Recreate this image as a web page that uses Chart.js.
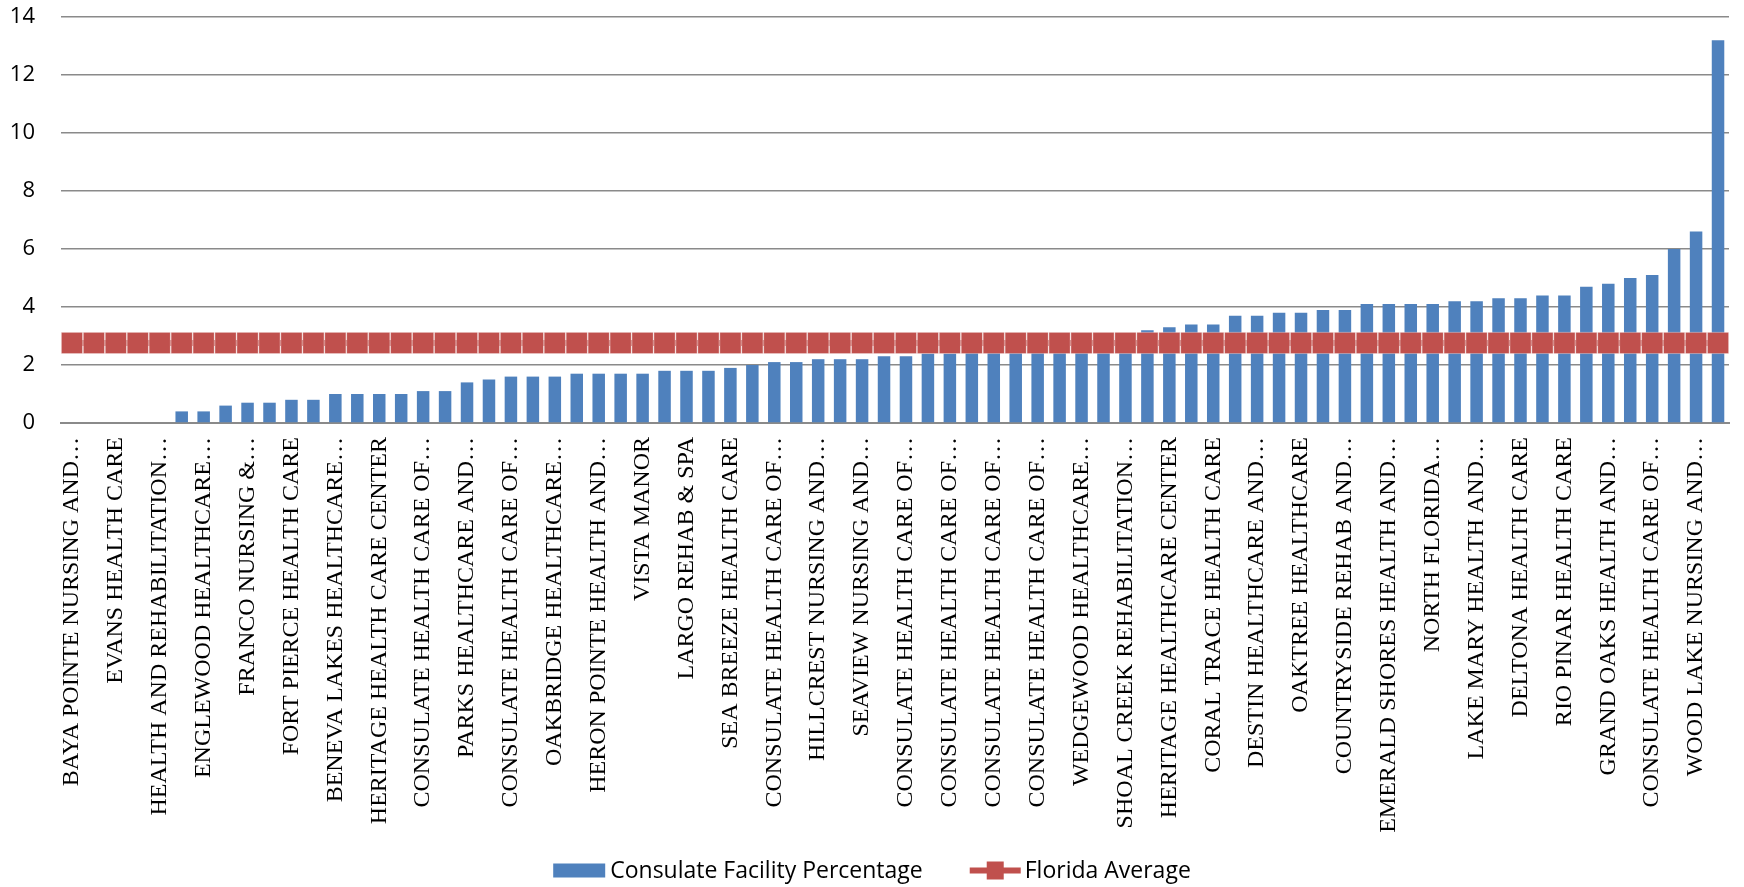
<!DOCTYPE html>
<html>
<head>
<meta charset="utf-8">
<title>Consulate Facility Percentage vs Florida Average</title>
<script src="https://cdn.jsdelivr.net/npm/chart.js@4.4.1/dist/chart.umd.min.js"></script>
<style>
    html, body { margin: 0; padding: 0; background: #ffffff; }
    #wrap { width: 1744px; height: 887px; position: relative; }
</style>
</head>
<body>
<div id="wrap"><canvas id="facility-chart"></canvas></div>
<script>
// Facility names, left to right. Only every other name is printed on the
// axis in the source chart, so the names in between are left blank.
const facilities = [
    'BAYA POINTE NURSING AND…', '',
    'EVANS HEALTH CARE', '',
    'HEALTH AND REHABILITATION…', '',
    'ENGLEWOOD HEALTHCARE…', '',
    'FRANCO NURSING &…', '',
    'FORT PIERCE HEALTH CARE', '',
    'BENEVA LAKES HEALTHCARE…', '',
    'HERITAGE HEALTH CARE CENTER', '',
    'CONSULATE HEALTH CARE OF…', '',
    'PARKS HEALTHCARE AND…', '',
    'CONSULATE HEALTH CARE OF…', '',
    'OAKBRIDGE HEALTHCARE…', '',
    'HERON POINTE HEALTH AND…', '',
    'VISTA MANOR', '',
    'LARGO REHAB & SPA', '',
    'SEA BREEZE HEALTH CARE', '',
    'CONSULATE HEALTH CARE OF…', '',
    'HILLCREST NURSING AND…', '',
    'SEAVIEW NURSING AND…', '',
    'CONSULATE HEALTH CARE OF…', '',
    'CONSULATE HEALTH CARE OF…', '',
    'CONSULATE HEALTH CARE OF…', '',
    'CONSULATE HEALTH CARE OF…', '',
    'WEDGEWOOD HEALTHCARE…', '',
    'SHOAL CREEK REHABILITATION…', '',
    'HERITAGE HEALTHCARE CENTER', '',
    'CORAL TRACE HEALTH CARE', '',
    'DESTIN HEALTHCARE AND…', '',
    'OAKTREE HEALTHCARE', '',
    'COUNTRYSIDE REHAB AND…', '',
    'EMERALD SHORES HEALTH AND…', '',
    'NORTH FLORIDA…', '',
    'LAKE MARY HEALTH AND…', '',
    'DELTONA HEALTH CARE', '',
    'RIO PINAR HEALTH CARE', '',
    'GRAND OAKS HEALTH AND…', '',
    'CONSULATE HEALTH CARE OF…', '',
    'WOOD LAKE NURSING AND…', ''
];

// Consulate facility percentage per facility
const facilityPercent = [
    0, 0, 0, 0, 0, 0.4, 0.4, 0.6, 0.7, 0.7,
    0.8, 0.8, 1.0, 1.0, 1.0, 1.0, 1.1, 1.1, 1.4, 1.5,
    1.6, 1.6, 1.6, 1.7, 1.7, 1.7, 1.7, 1.8, 1.8, 1.8,
    1.9, 2.0, 2.1, 2.1, 2.2, 2.2, 2.2, 2.3, 2.3, 2.4,
    2.4, 2.5, 2.5, 2.6, 2.7, 2.7, 2.8, 2.9, 3.0, 3.2,
    3.3, 3.4, 3.4, 3.7, 3.7, 3.8, 3.8, 3.9, 3.9, 4.1,
    4.1, 4.1, 4.1, 4.2, 4.2, 4.3, 4.3, 4.4, 4.4, 4.7,
    4.8, 5.0, 5.1, 6.0, 6.6, 13.2
];

// Statewide average, same for every facility
const floridaAverage = 2.76;

// Y axis range and step
const yTicks = [0, 2, 4, 6, 8, 10, 12, 14];

const BLUE = '#4F81BD';
const RED = '#C0504D';
const GRID = '#8A8A8A';
const SANS = "'Open Sans'";

/**
 * Legend drawn under the chart: flat bar swatch for the bars,
 * line with a square marker for the average.
 */
const bottomLegend = {
    id: 'bottomLegend',
    afterDraw(chart) {
        const c = chart.ctx;
        const [bars, avg] = chart.data.datasets;
        const y = 870.5;

        c.save();
        c.font = '23px ' + SANS;
        c.textBaseline = 'middle';
        const w1 = c.measureText(bars.label).width;
        const w2 = c.measureText(avg.label).width;
        const total = 52 + 5 + w1 + 47 + 51 + 4 + w2;
        let x = 872 - total / 2;

        c.fillStyle = bars.backgroundColor;
        c.fillRect(x, y - 7, 52, 14);
        x += 57;
        c.fillStyle = '#000000';
        c.fillText(bars.label, x, y + 1);
        x += w1 + 47;

        c.fillStyle = avg.borderColor;
        c.fillRect(x, y - 3, 51, 6);
        c.fillRect(x + 17, y - 9, 17, 18);
        x += 55;
        c.fillStyle = '#000000';
        c.fillText(avg.label, x, y + 1);
        c.restore();
    }
};

const ctx = document.getElementById('facility-chart').getContext('2d');
const facilityChart = new Chart(ctx, {
    type: 'bar',
    data: {
        labels: facilities,
        datasets: [{
            label: 'Consulate Facility Percentage',
            data: facilityPercent,
            backgroundColor: BLUE,
            borderWidth: 0,
            barPercentage: 0.57,
            categoryPercentage: 1.0,
            order: 1
        }, {
            type: 'line',
            label: 'Florida Average',
            data: facilities.map(() => floridaAverage),
            borderColor: RED,
            borderWidth: 6,
            backgroundColor: RED,
            pointStyle: 'rect',
            pointRadius: 15,
            pointHoverRadius: 15,
            pointBackgroundColor: RED,
            pointBorderColor: 'rgba(255, 255, 255, 0.35)',
            pointBorderWidth: 1,
            fill: false,
            order: 0
        }]
    },
    plugins: [bottomLegend],
    options: {
        responsive: true,
        maintainAspectRatio: false,
        animation: false,
        layout: {
            autoPadding: false,
            padding: { top: 17, right: 15, bottom: 0, left: 10 }
        },
        plugins: {
            legend: { display: false },
            tooltip: { enabled: false }
        },
        scales: {
            x: {
                grid: { display: false, drawTicks: false },
                border: { display: true, color: GRID, width: 2 },
                ticks: {
                    autoSkip: false,
                    minRotation: 90,
                    maxRotation: 90,
                    padding: 14,
                    color: '#000000',
                    font: { family: 'Liberation Serif', size: 24 }
                },
                // fixed band for the long rotated names, legend sits below it
                afterFit: function(scale) {
                    scale.height = 464;
                    scale.paddingLeft = 0;
                    scale.paddingRight = 0;
                }
            },
            y: {
                min: yTicks[0],
                max: yTicks[yTicks.length - 1],
                afterBuildTicks: function(axis) {
                    axis.ticks = yTicks.map(v => ({ value: v }));
                },
                afterFit: function(scale) {
                    scale.width = 51;
                    scale.paddingTop = 13;
                    scale.paddingBottom = 0;
                },
                grid: { color: GRID, lineWidth: 1.5, drawTicks: false },
                border: { display: false },
                ticks: {
                    padding: 26,
                    color: '#000000',
                    font: { family: 'Open Sans', size: 22 }
                }
            }
        }
    }
});
</script>
</body>
</html>
